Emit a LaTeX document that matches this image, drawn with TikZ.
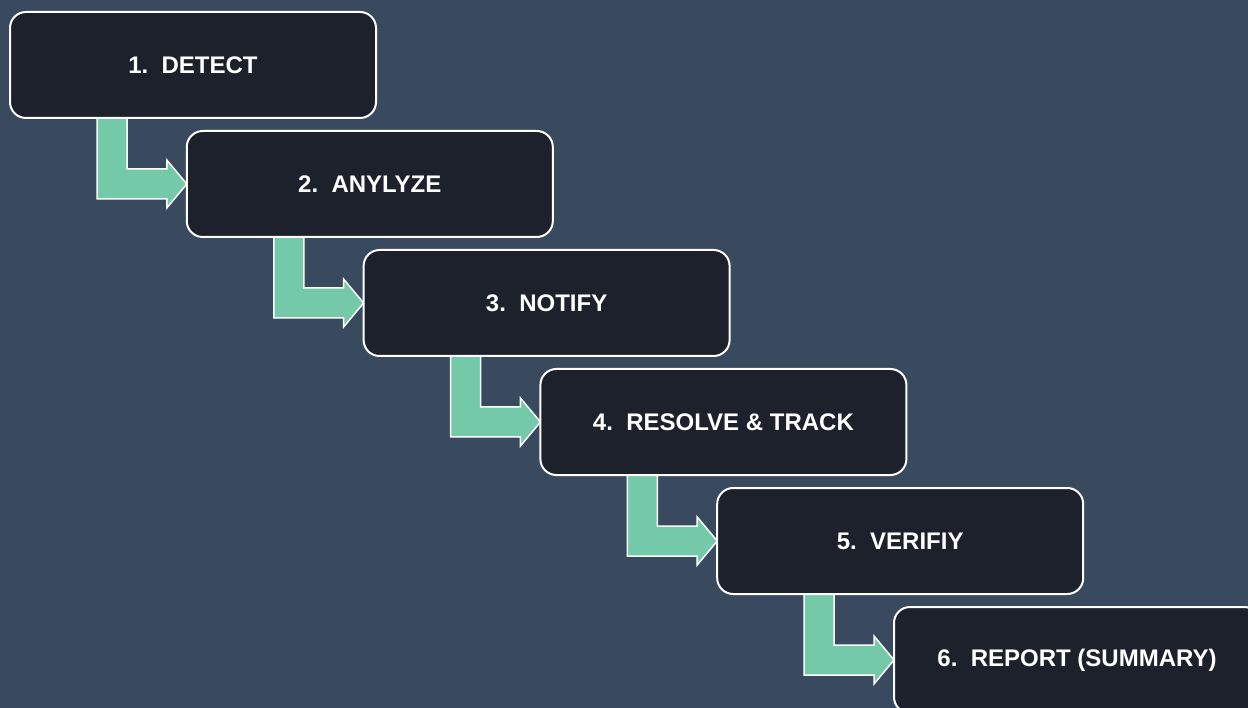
\documentclass[tikz,border=0pt]{standalone}
\usepackage{fontspec}
\setmainfont{Liberation Sans}
\usetikzlibrary{calc,backgrounds}
\definecolor{bgc}{HTML}{3A4A5E}
\definecolor{boxc}{HTML}{1C212B}
\definecolor{grn}{HTML}{73C9A8}
\tikzset{
  stepbox/.style={draw=white, line width=2pt, fill=boxc, rounded corners=16pt,
    minimum width=366pt, minimum height=106pt, inner sep=0pt, outer sep=0pt,
    text=white, font=\fontsize{24}{28}\selectfont\bfseries},
  flowarrow/.style={draw=white, line width=1.5pt, fill=grn, line join=miter}
}
\begin{document}
\begin{tikzpicture}[x=1pt,y=-1pt]
\useasboundingbox (0,0) rectangle (1248,708);
\node[stepbox] (b1) at (193,65) {1.\ \ DETECT};
\node[stepbox] (b2) at (369.8,184) {2.\ \ ANYLYZE};
\node[stepbox] (b3) at (546.6,303) {3.\ \ NOTIFY};
\node[stepbox] (b4) at (723.4,422) {4.\ \ RESOLVE \& TRACK};
\node[stepbox] (b5) at (900.2,541) {5.\ \ VERIFIY};
\node[stepbox] (b6) at (1077,660) {6.\ \ REPORT (SUMMARY)};
\begin{scope}[on background layer]
\fill[bgc] (0,0) rectangle (1248,708);
\foreach \a/\b in {b1/b2,b2/b3,b3/b4,b4/b5,b5/b6}{
  \draw[flowarrow] ($(\a.south west)+(87,0)$) |- ($(\b.west)+(-20,15)$) -- ++(0,9)
    -- (\b.west) -- ++(-20,-24) -- ++(0,9) -| ($(\a.south west)+(117,0)$) -- cycle;
}
\end{scope}
\end{tikzpicture}
\end{document}
